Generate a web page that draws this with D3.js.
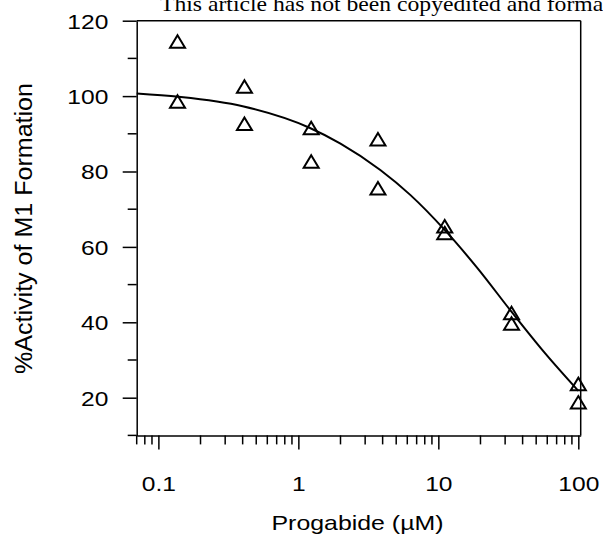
<!DOCTYPE html>
<html>
<head>
<meta charset="utf-8">
<script src="https://cdn.jsdelivr.net/npm/d3@7"></script>
<style>
  body { margin: 0; background: #fff; }
  svg { display: block; }
</style>
</head>
<body>
<div id="chart"></div>
<script>
const width = 603;
const height = 545;

// progabide concentrations (uM), two replicates of % activity
const conc = [0.137, 0.412, 1.235, 3.704, 11.11, 33.33, 100];
const rep1 = [114.4, 102.5, 91.5, 88.5, 65.4, 42.4, 23.6];
const rep2 = [98.5, 92.6, 82.6, 75.5, 63.6, 39.6, 18.7];

// fitted curve
const fitX = [0.07, 0.14, 0.4, 1.2, 2, 3.85, 6.3, 11.1, 18.9, 33.3, 56.6, 100];
const fitY = [100.7, 99.8, 97.3, 91.6, 87.4, 80.4, 73.8, 64.5, 54.5, 42.8, 32.2, 21.8];

const xMajor = [0.1, 1, 10, 100];
const xMinor = [0.07, 0.08, 0.09, 0.2, 0.3, 0.4, 0.5, 0.6, 0.7, 0.8, 0.9,
                2, 3, 4, 5, 6, 7, 8, 9, 20, 30, 40, 50, 60, 70, 80, 90];
const xLabels = ["0.1", "1", "10", "100"];
const yMajor = [20, 40, 60, 80, 100, 120];
const yMinor = [10, 30, 50, 70, 90, 110];

const header = "This article has not been copyedited and formatted. The final version may differ from this version.";

const x = d3.scaleLog().domain([0.07, 104]).range([136.7, 580.7]);
const y = d3.scaleLinear().domain([10, 120]).range([435.4, 20.7]);

const svg = d3.select("#chart")
  .append("svg")
  .attr("width", width)
  .attr("height", height)
  .attr("viewBox", [0, 0, width, height]);

// widen text a bit, the figure's font runs wider than Arial
function stretch(sel, f) {
  sel.each(function() {
    const w = this.getComputedTextLength();
    d3.select(this).attr("textLength", w * f).attr("lengthAdjust", "spacingAndGlyphs");
  });
}

// header strip at the top (cut by the page edge, as in the figure)
const head = svg.append("text")
  .attr("x", 160)
  .attr("y", 11)
  .style("font-family", "'Liberation Serif', 'Times New Roman', serif")
  .style("font-size", "21px")
  .text(header);
const sub = head.node().getSubStringLength(0, 45);
head.attr("textLength", head.node().getComputedTextLength() * 432.7 / sub)
  .attr("lengthAdjust", "spacingAndGlyphs");

const font = "'Liberation Sans', Arial, sans-serif";

// x axis
const xAxis = svg.append("g")
  .attr("transform", `translate(0,${y(10)})`)
  .call(d3.axisBottom(x).tickValues(xMajor).tickSize(14).tickSizeOuter(0)
    .tickFormat((d, i) => xLabels[i]));
xAxis.append("g").selectAll("line")
  .data(xMinor)
  .join("line")
  .attr("x1", d => x(d)).attr("x2", d => x(d))
  .attr("y1", 0).attr("y2", 9)
  .attr("stroke", "#000");

// y axis
const yAxis = svg.append("g")
  .attr("transform", `translate(${x(0.07)},0)`)
  .call(d3.axisLeft(y).tickValues(yMajor).tickSize(14).tickSizeOuter(0));
yAxis.append("g").selectAll("line")
  .data(yMinor)
  .join("line")
  .attr("y1", d => y(d)).attr("y2", d => y(d))
  .attr("x1", 0).attr("x2", -9)
  .attr("stroke", "#000");

svg.selectAll(".domain, .tick line, g > g > line")
  .attr("stroke", "#000")
  .attr("stroke-width", 1.5);

xAxis.selectAll(".tick text")
  .attr("y", 40.4)
  .attr("dy", "0.71em")
  .style("font-family", font)
  .style("font-size", "21px")
  .attr("fill", "#000");
stretch(xAxis.selectAll(".tick text"), 1.17);

yAxis.selectAll(".tick text")
  .attr("x", -28.4)
  .attr("dy", "0.35em")
  .style("font-family", font)
  .style("font-size", "21px")
  .attr("fill", "#000");
stretch(yAxis.selectAll(".tick text"), 1.17);

// top and right frame
svg.append("line")
  .attr("x1", x(0.07)).attr("x2", x(104))
  .attr("y1", y(120)).attr("y2", y(120))
  .attr("stroke", "#000").attr("stroke-width", 1.5);
svg.append("line")
  .attr("x1", x(104)).attr("x2", x(104))
  .attr("y1", y(120)).attr("y2", y(10))
  .attr("stroke", "#000").attr("stroke-width", 1.5);

// axis titles
const xTitle = svg.append("text")
  .attr("x", 357.5)
  .attr("y", 530)
  .attr("text-anchor", "middle")
  .style("font-family", font)
  .style("font-size", "21px")
  .text("Progabide (\u00B5M)");
xTitle.attr("textLength", 172).attr("lengthAdjust", "spacingAndGlyphs");

svg.append("text")
  .attr("transform", "translate(32,228.5) rotate(-90)")
  .attr("text-anchor", "middle")
  .style("font-family", font)
  .style("font-size", "23px")
  .attr("textLength", 291)
  .attr("lengthAdjust", "spacingAndGlyphs")
  .text("%Activity of M1 Formation");

// fitted curve
const fit = fitX.map((d, i) => [d, fitY[i]]);
svg.append("path")
  .datum(fit)
  .attr("fill", "none")
  .attr("stroke", "#000")
  .attr("stroke-width", 2)
  .attr("d", d3.line().x(d => x(d[0])).y(d => y(d[1])).curve(d3.curveMonotoneX));

// points
const pts = [];
conc.forEach((c, i) => {
  pts.push([c, rep1[i]]);
  pts.push([c, rep2[i]]);
});
const tri = "M0,-6.5L7.5,6L-7.5,6Z";
svg.append("g").selectAll("path")
  .data(pts)
  .join("path")
  .attr("transform", d => `translate(${x(d[0])},${y(d[1])})`)
  .attr("d", tri)
  .attr("fill", "none")
  .attr("stroke", "#000")
  .attr("stroke-width", 2);
</script>
</body>
</html>
